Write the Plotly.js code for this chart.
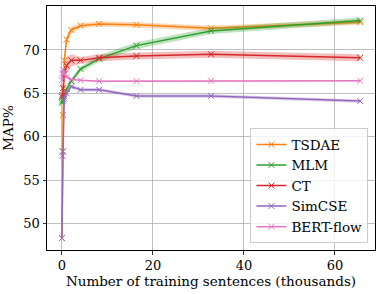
<!DOCTYPE html>
<html><head><meta charset="utf-8">
<script src="https://cdn.plot.ly/plotly-3.0.1.min.js"></script>
<style>html,body{margin:0;padding:0;background:#fff;}#chart{width:382px;height:294px;}</style>
</head><body><div id="chart"></div>
<script>
// Number of training sentences (thousands)
const xThousands = [0, 0.128, 0.256, 0.512, 1.024, 2.048, 4.096, 8.192, 16.384, 32.768, 65.536];

const seriesNames = ["TSDAE", "MLM", "CT", "SimCSE", "BERT-flow"];
const seriesColors = ["#ff7f0e", "#2ca02c", "#d62728", "#9467bd", "#e377c2"];
const bandColors = ["rgba(255,127,14,0.3)", "rgba(44,160,44,0.3)", "rgba(214,39,40,0.3)", "rgba(148,103,189,0.3)", "rgba(227,119,194,0.3)"];

// mean MAP%
const tsdaeMean    = [48.3, 58.3, 62.5, 68.8, 71.2, 72.3, 72.8, 73.0, 72.9, 72.5, 73.2];
const mlmMean      = [63.9, 64.1, 64.3, 64.7, 65.5, 66.4, 67.8, 69.0, 70.5, 72.2, 73.4];
const ctMean       = [64.6, 64.8, 65.6, 67.2, 68.2, 68.8, 68.8, 69.1, 69.3, 69.5, 69.1];
const simcseMean   = [48.3, 57.8, 58.3, 64.4, 65.0, 65.8, 65.4, 65.4, 64.7, 64.7, 64.1];
const bertflowMean = [66.5, 67.3, 67.7, 67.3, 66.9, 66.6, 66.5, 66.4, 66.4, 66.45, 66.45];

// spread (half-width of the shaded band)
const tsdaeStd    = [0.2, 0.4, 0.5, 0.5, 0.5, 0.4, 0.3, 0.3, 0.3, 0.3, 0.3];
const mlmStd      = [0.2, 0.2, 0.2, 0.3, 0.3, 0.3, 0.3, 0.4, 0.4, 0.35, 0.35];
const ctStd       = [0.3, 0.4, 0.6, 0.8, 1.0, 0.7, 0.4, 0.4, 0.4, 0.4, 0.4];
const simcseStd   = [0.2, 0.3, 0.3, 0.3, 0.3, 0.2, 0.2, 0.2, 0.2, 0.2, 0.2];
const bertflowStd = [0.3, 0.6, 0.5, 0.3, 0.2, 0.1, 0.1, 0.1, 0.1, 0.1, 0.1];

const means = [tsdaeMean, mlmMean, ctMean, simcseMean, bertflowMean];
const stds = [tsdaeStd, mlmStd, ctStd, simcseStd, bertflowStd];

const FONT = "DejaVu Serif";
const traces = [];
for (let i = 0; i < seriesNames.length; i++) {
  const m = means[i], s = stds[i];
  traces.push({x: xThousands, y: m.map((v, k) => v + s[k]), mode: "lines",
    line: {width: 0, color: bandColors[i]}, showlegend: false, hoverinfo: "skip"});
  traces.push({x: xThousands, y: m.map((v, k) => v - s[k]), mode: "lines", fill: "tonexty",
    fillcolor: bandColors[i], line: {width: 0, color: bandColors[i]}, showlegend: false, hoverinfo: "skip"});
  traces.push({x: xThousands, y: m, name: seriesNames[i], mode: "lines+markers",
    line: {color: seriesColors[i], width: 1.5},
    marker: {symbol: "x-thin", size: 6, color: seriesColors[i], line: {color: seriesColors[i], width: 1}}});
}

const layout = {
  width: 382, height: 294,
  margin: {l: 47, r: 7, t: 6, b: 44},
  paper_bgcolor: "#fff", plot_bgcolor: "#fff",
  font: {family: FONT, size: 13, color: "#000"},
  showlegend: true,
  legend: {x: 0.98, y: 0.028, xanchor: "right", yanchor: "bottom", traceorder: "normal",
    bgcolor: "rgba(255,255,255,0.8)", bordercolor: "#cccccc", borderwidth: 1,
    font: {family: FONT, size: 13.5}, tracegroupgap: 0, itemwidth: 30},
  xaxis: {range: [-3.28, 68.8], tickvals: [0, 20, 40, 60], ticktext: ["0", "20", "40", "60"],
    showgrid: true, gridcolor: "#b0b0b0", gridwidth: 0.8, zeroline: false,
    showline: true, linecolor: "#000", linewidth: 1, mirror: true,
    ticks: "outside", ticklen: 3.5, tickwidth: 0.8, tickcolor: "#000",
    tickfont: {family: FONT, size: 13},
    title: {text: "Number of training sentences (thousands)", font: {family: FONT, size: 13.5}, standoff: 1}},
  yaxis: {range: [46.93, 75.07], tickvals: [50, 55, 60, 65, 70], ticktext: ["50", "55", "60", "65", "70"],
    showgrid: true, gridcolor: "#b0b0b0", gridwidth: 0.8, zeroline: false,
    showline: true, linecolor: "#000", linewidth: 1, mirror: true,
    ticks: "outside", ticklen: 3.5, tickwidth: 0.8, tickcolor: "#000",
    tickfont: {family: FONT, size: 13},
    title: {text: "MAP%", font: {family: FONT, size: 13.5}, standoff: 6}}
};
Plotly.newPlot("chart", traces, layout, {staticPlot: true, displayModeBar: false});
</script></body></html>
